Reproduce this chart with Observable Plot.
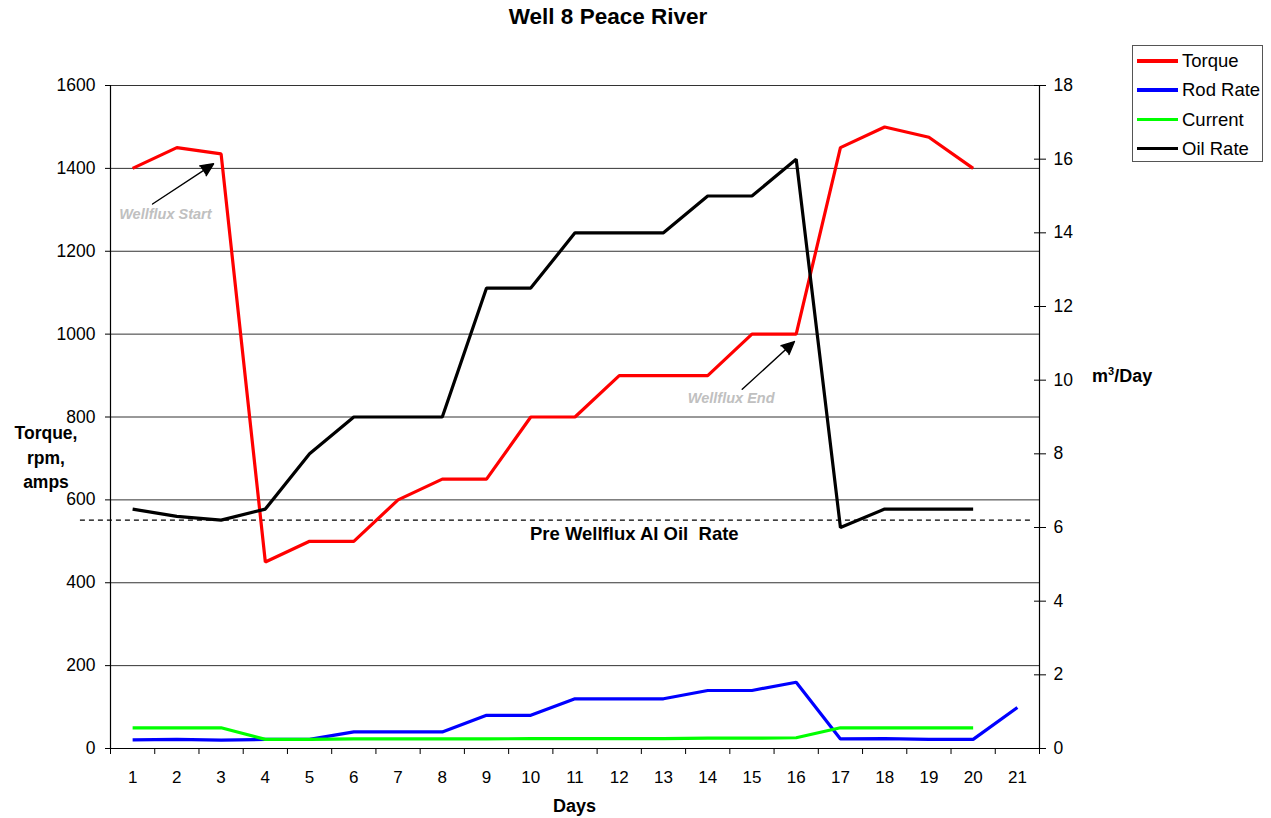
<!DOCTYPE html>
<html>
<head>
<meta charset="utf-8">
<script src="https://cdn.jsdelivr.net/npm/d3@7"></script>
<script src="https://cdn.jsdelivr.net/npm/@observablehq/plot@0.6"></script>
<style>
  html, body { margin: 0; padding: 0; background: #fff; }
  #wrap { position: relative; width: 1271px; height: 818px; font-family: "Liberation Sans", Arial, sans-serif; color: #000; }
  #wrap svg { position: absolute; left: 0; top: 0; }
  .abs { position: absolute; white-space: nowrap; }
  #title { left: 0; width: 1216px; top: 4px; text-align: center; font-weight: bold; font-size: 22.5px; }
  #ylab { left: 0; width: 92px; top: 421px; text-align: center; font-weight: bold; font-size: 17.5px; line-height: 24.5px; }
  #y2lab { left: 1092px; top: 366px; font-weight: bold; font-size: 18px; }
  #y2lab sup { font-size: 11px; vertical-align: 7px; line-height: 0; }
  #xlab { left: 0; width: 1149px; top: 796px; text-align: center; font-weight: bold; font-size: 18px; }
  #legend { left: 1132px; top: 45px; width: 131px; height: 117px; border: 1px solid #555; box-sizing: border-box; }
  .li { position: absolute; left: 4px; height: 29px; }
  .li .sw { position: absolute; left: 0; top: 13px; width: 41px; height: 3.5px; }
  .li .tx { position: absolute; left: 45px; top: 4px; font-size: 18.5px; }
</style>
</head>
<body>
<div id="wrap"></div>
<script>
const days = d3.range(1, 22);
const torque  = [1400,1450,1435,450,500,500,600,650,650,800,800,900,900,900,1000,1000,1450,1500,1475,1400,null];
const rodRate = [21,22,20,22,22,40,40,40,80,80,120,120,120,140,140,160,23,24,22,22,99];
const current = [50,50,50,22,22,23,23,23,23,24,24,24,24,25,25,26,50,50,50,50,null];
const oilRate = [6.5,6.3,6.2,6.5,8,9,9,9,12.5,12.5,14,14,14,15,15,16,6.0,6.5,6.5,6.5,null];
const preRate = 6.2;
const leftTicks = d3.range(0, 1601, 200);
const rightTicks = d3.range(0, 19, 2);
const seriesNames = ["Torque", "Rod Rate", "Current", "Oil Rate"];
const seriesColors = ["#ff0000", "#0000ff", "#00ff00", "#000000"];
const annotations = [
  {text: "Wellflux Start", x: 1.74, y: 1290},
  {text: "Wellflux End", x: 14.53, y: 844}
];
const arrows = [
  {x1: 1.45, y1: 1314, x2: 2.83, y2: 1411},
  {x1: 14.78, y1: 867, x2: 15.96, y2: 982}
];

const K = 1600 / 18;
const rows = [];
days.forEach((d, i) => {
  [torque, rodRate, current, oilRate.map(v => v == null ? null : v * K)].forEach((arr, j) => {
    if (arr[i] != null) rows.push({day: d, value: arr[i], series: seriesNames[j]});
  });
});

const chart = Plot.plot({
  width: 1271,
  height: 818,
  marginLeft: 110,
  marginRight: 232,
  marginTop: 85,
  marginBottom: 70,
  style: {fontFamily: '"Liberation Sans", Arial, sans-serif', fontSize: "17px", background: "transparent", overflow: "visible"},
  x: {domain: [0.5, 21.5]},
  y: {domain: [0, 1600]},
  color: {domain: seriesNames, range: seriesColors},
  marks: [
    Plot.gridY(leftTicks.slice(1), {stroke: "#333", strokeOpacity: 1, strokeWidth: 1}),
    Plot.ruleX([0.5, 21.5], {y1: 0, y2: 1600, stroke: "#000", strokeWidth: 1.2}),
    Plot.ruleY([0], {stroke: "#000", strokeWidth: 1.2}),
    Plot.axisY(leftTicks, {anchor: "left", tickSize: 5, tickPadding: 10, fontSize: 17.5, label: null, tickFormat: d => String(d)}),
    Plot.axisY(rightTicks.map(v => v * K), {anchor: "right", tickSize: 12, dx: -6, tickPadding: 8, fontSize: 17.5, label: null, tickFormat: d => String(Math.round(d / K))}),
    Plot.axisX(days, {anchor: "bottom", tickSize: 0, tickPadding: 22, fontSize: 17, label: null, tickFormat: d => String(d)}),
    Plot.axisX(d3.range(0.5, 22, 1), {anchor: "bottom", tickSize: 6, tickFormat: () => "", label: null}),
    Plot.ruleY([preRate * K], {x1: -0.18, x2: 21.3, stroke: "#000", strokeWidth: 1.2, strokeDasharray: "5,4"}),
    Plot.text(["Pre Wellflux AI Oil\u00a0\u00a0Rate"], {x: 12.34, y: 518, fontWeight: "bold", fontSize: 18.5, textAnchor: "middle"}),
    Plot.line(rows, {x: "day", y: "value", z: "series", stroke: "series", strokeWidth: 3.2, strokeLinejoin: "miter", strokeLinecap: "butt"}),
    Plot.arrow(arrows, {x1: "x1", y1: "y1", x2: "x2", y2: "y2", stroke: "#000", fill: "#000", strokeWidth: 1.4, headLength: 15, headAngle: 50}),
    Plot.text(annotations, {x: "x", y: "y", text: "text", fill: "#c0c0c0", fontWeight: "bold", fontStyle: "italic", fontSize: 14.5, textAnchor: "middle"})
  ]
});

const wrap = document.getElementById("wrap");
wrap.appendChild(chart);
// filled arrow heads
d3.select(chart).selectAll('g[aria-label="arrow"] path').attr("fill", "#000");

function addDiv(id, html) {
  const el = document.createElement("div");
  el.className = "abs";
  el.id = id;
  el.innerHTML = html;
  wrap.appendChild(el);
  return el;
}
addDiv("title", "Well 8 Peace River");
addDiv("ylab", "Torque,<br>rpm,<br>amps");
addDiv("y2lab", "m<sup>3</sup>/Day");
addDiv("xlab", "Days");
const lg = addDiv("legend", "");
seriesNames.forEach((name, i) => {
  const li = document.createElement("div");
  li.className = "li";
  li.style.top = (i * 29.3) + "px";
  const sw = document.createElement("div");
  sw.className = "sw";
  sw.style.background = seriesColors[i];
  const tx = document.createElement("div");
  tx.className = "tx";
  tx.textContent = name;
  li.appendChild(sw);
  li.appendChild(tx);
  lg.appendChild(li);
});
</script>
</body>
</html>
